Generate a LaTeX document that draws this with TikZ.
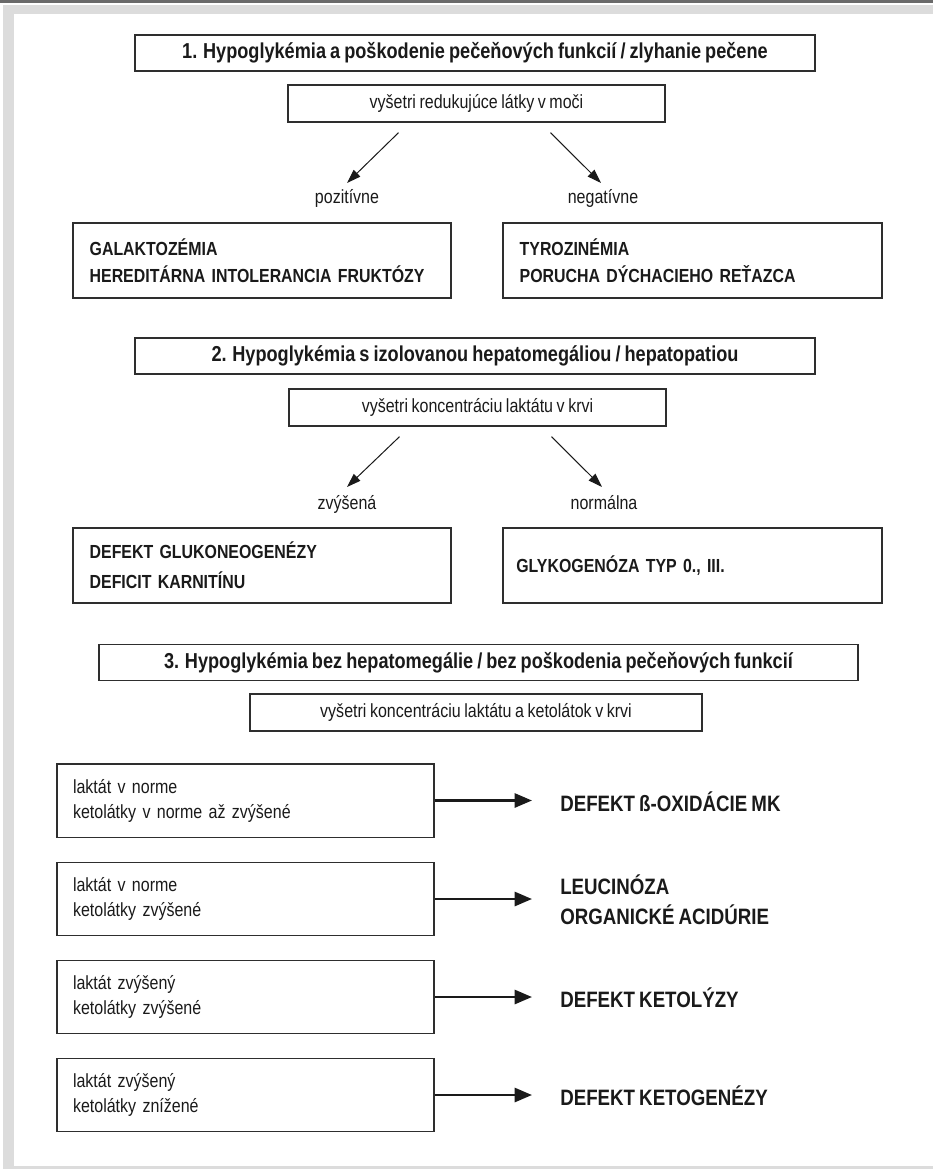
\documentclass[tikz,border=0pt]{standalone}
\usepackage{fontspec}
\setmainfont[FakeStretch=0.84,WordSpace=0.8]{Liberation Sans}
\usetikzlibrary{arrows.meta}
\definecolor{framedark}{HTML}{6A6A6A}
\definecolor{framelight}{HTML}{DCDCDC}
\definecolor{ink}{HTML}{1A1A1A}
\definecolor{boxline}{HTML}{2E2E2E}
\begin{document}
\begin{tikzpicture}[x=0.75pt,y=-0.75pt,
  titlebox/.style={draw=boxline, line width=1.1pt, minimum width=#1, minimum height=27pt,
    inner sep=0pt, font=\fontsize{16.2}{18}\selectfont\bfseries, text=ink},
  testbox/.style={draw=boxline, line width=1pt, minimum width=#1, minimum height=27.75pt,
    inner sep=0pt, font=\fontsize{14.3}{16}\selectfont, text=ink},
  secbox/.style={draw=boxline, line width=1pt, text width=#1, inner xsep=12.5pt, inner ysep=0pt,
    minimum height=56.25pt, align=left, font=\fontsize{14.2}{20.25}\selectfont\bfseries, text=ink},
  lowbox/.style={draw=boxline, line width=1pt, text width=258.75pt, inner xsep=12pt, inner ysep=0pt,
    minimum height=55pt, align=left, font=\fontsize{14.3}{18.75}\selectfont, text=ink},
  lbl/.style={inner sep=0pt, text height=0.72em, text depth=0.2em, font=\fontsize{14.3}{16}\selectfont, text=ink},
  diag/.style={anchor=west, inner sep=0pt, align=left, font=\fontsize{16.7}{22.5}\selectfont\bfseries, text=ink},
  darrow/.style={draw=ink, line width=0.75pt, -{Triangle[length=10.5pt,width=7pt]}},
  harrow/.style={draw=ink, line width=2pt, -{Triangle[length=13pt,width=10.5pt]}, shorten >=21pt}
]
\useasboundingbox (0,0) rectangle (933,1169);
\fill[white] (0,0) rectangle (933,1169);
% frame
\fill[framedark] (0,0) rectangle (933,2.7);
\fill[framelight] (3.3,5) rectangle (933,14);
\fill[framelight] (3.3,5) rectangle (14,1169);
\fill[framelight] (3.3,1165.5) rectangle (933,1169);

% ---- section 1
\node[titlebox=510pt] (t1) at (475,53) {1. Hypoglykémia a poškodenie pečeňových funkcií / zlyhanie pečene};
\node[testbox=282.75pt] (v1) at (476.5,103.5) {vyšetri redukujúce látky v moči};
\node[lbl] (l1a) at (347,200) {pozitívne};
\node[lbl] (l1b) at (603,200) {negatívne};
\draw[darrow] ([shift={(-78,10)}]v1.south) -- ([shift={(0,-17)}]l1a.center);
\draw[darrow] ([shift={(74,10)}]v1.south) -- ([shift={(-2,-17)}]l1b.center);
\node[secbox=258.5pt] (s1a) at (262,260.5) {GALAKTOZÉMIA\\HEREDITÁRNA INTOLERANCIA FRUKTÓZY};
\node[secbox=259.25pt] (s1b) at (692.5,260.5) {TYROZINÉMIA\\PORUCHA DÝCHACIEHO REŤAZCA};

% ---- section 2
\node[titlebox=510pt] (t2) at (475,356) {2. Hypoglykémia s izolovanou hepatomegáliou / hepatopatiou};
\node[testbox=282.75pt] (v2) at (477.5,407.5) {vyšetri koncentráciu laktátu v krvi};
\node[lbl] (l2a) at (347,506) {zvýšená};
\node[lbl] (l2b) at (604,506) {normálna};
\draw[darrow] ([shift={(-78,10)}]v2.south) -- ([shift={(0,-19)}]l2a.center);
\draw[darrow] ([shift={(74,10)}]v2.south) -- ([shift={(-2,-19)}]l2b.center);
\node[secbox=258.5pt, font=\fontsize{14.2}{22.5}\selectfont\bfseries] (s2a) at (262,565.5) {DEFEKT GLUKONEOGENÉZY\\DEFICIT KARNITÍNU};
\node[secbox=259.25pt, inner xsep=10pt, text width=264.25pt] (s2b) at (692.5,565.5) {GLYKOGENÓZA TYP 0., III.};

% ---- section 3
\node[titlebox=569.25pt] (t3) at (478.5,662.5) {3. Hypoglykémia bez hepatomegálie / bez poškodenia pečeňových funkcií};
\node[testbox=339pt] (v3) at (476,712.5) {vyšetri koncentráciu laktátu a ketolátok v krvi};

\node[lowbox] (b1) at (245.5,800.5) {laktát v norme\\ketolátky v norme až zvýšené};
\node[lowbox] (b2) at (245.5,899) {laktát v norme\\ketolátky zvýšené};
\node[lowbox] (b3) at (245.5,997) {laktát zvýšený\\ketolátky zvýšené};
\node[lowbox] (b4) at (245.5,1095) {laktát zvýšený\\ketolátky znížené};

\node[diag] (d1) at (560,802) {DEFEKT ß-OXIDÁCIE MK};
\node[diag] (d2) at (560,900) {LEUCINÓZA\\ORGANICKÉ ACIDÚRIE};
\node[diag] (d3) at (560,998) {DEFEKT KETOLÝZY};
\node[diag] (d4) at (560,1096) {DEFEKT KETOGENÉZY};

\draw[harrow] (b1.east) -- (b1.east -| d1.west);
\draw[harrow] (b2.east) -- (b2.east -| d2.west);
\draw[harrow] (b3.east) -- (b3.east -| d3.west);
\draw[harrow] (b4.east) -- (b4.east -| d4.west);
\end{tikzpicture}
\end{document}
